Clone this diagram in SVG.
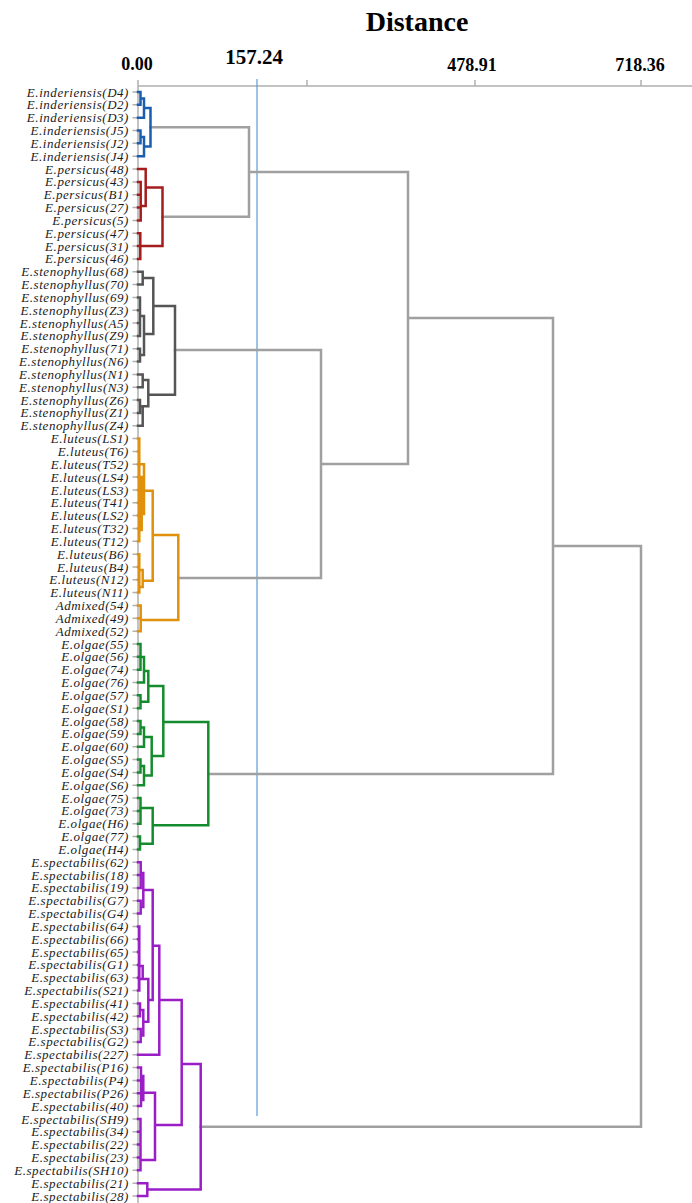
<svg xmlns="http://www.w3.org/2000/svg" width="692" height="1203" viewBox="0 0 692 1203">
<style>
.lbl{font-family:"Liberation Serif","Times New Roman",serif;font-style:italic;font-size:13px;letter-spacing:0.55px;fill:#1a1a1a;text-anchor:end}
.ax{font-family:"Liberation Serif","Times New Roman",serif;font-weight:bold;fill:#000;text-anchor:middle}
.br{fill:none;stroke-width:2.5;stroke-linecap:square;stroke-linejoin:miter}
.axis{fill:none;stroke:#b0b0b0;stroke-width:1.5}
</style>
<rect width="692" height="1203" fill="#fff"/>
<g id="title"><text class="ax" x="417" y="31" font-size="28">Distance</text></g>
<g id="axis">
<text class="ax" x="137" y="70" font-size="18">0.00</text>
<text class="ax" x="254" y="64" font-size="21">157.24</text>
<text class="ax" x="472" y="71" font-size="18">478.91</text>
<text class="ax" x="640" y="71" font-size="18">718.36</text>
<path class="axis" d="M138 86H692M138 80V1203M307 80V86M475 80V86M641 80V86"/>
<path class="axis" d="M132.5 92H138M132.5 104.8H138M132.5 117.7H138M132.5 130.5H138M132.5 143.3H138M132.5 156.2H138M132.5 169H138M132.5 181.9H138M132.5 194.7H138M132.5 207.5H138M132.5 220.4H138M132.5 233.2H138M132.5 246H138M132.5 258.9H138M132.5 271.7H138M132.5 284.6H138M132.5 297.4H138M132.5 310.3H138M132.5 323.1H138M132.5 335.9H138M132.5 348.7H138M132.5 361.6H138M132.5 374.4H138M132.5 387.3H138M132.5 400.1H138M132.5 412.9H138M132.5 425.8H138M132.5 438.6H138M132.5 451.4H138M132.5 464.3H138M132.5 477.1H138M132.5 490H138M132.5 502.8H138M132.5 515.6H138M132.5 528.5H138M132.5 541.3H138M132.5 554.2H138M132.5 567H138M132.5 579.8H138M132.5 592.6H138M132.5 605.5H138M132.5 618.3H138M132.5 631.2H138M132.5 644H138M132.5 656.8H138M132.5 669.7H138M132.5 682.5H138M132.5 695.3H138M132.5 708.2H138M132.5 721H138M132.5 733.9H138M132.5 746.7H138M132.5 759.5H138M132.5 772.4H138M132.5 785.2H138M132.5 798H138M132.5 810.9H138M132.5 823.7H138M132.5 836.5H138M132.5 849.4H138M132.5 862.2H138M132.5 875.1H138M132.5 887.9H138M132.5 900.7H138M132.5 913.6H138M132.5 926.4H138M132.5 939.2H138M132.5 952.1H138M132.5 964.9H138M132.5 977.8H138M132.5 990.6H138M132.5 1003.4H138M132.5 1016.3H138M132.5 1029.1H138M132.5 1041.9H138M132.5 1054.8H138M132.5 1067.6H138M132.5 1080.4H138M132.5 1093.3H138M132.5 1106.1H138M132.5 1119H138M132.5 1131.8H138M132.5 1144.6H138M132.5 1157.5H138M132.5 1170.3H138M132.5 1183.2H138M132.5 1196H138"/>
<path d="M257 79V1116" stroke="#5b9bd5" stroke-width="1.2" fill="none"/>
</g>
<g id="connectors">
<path class="br" stroke="#a0a0a0" d="M150.5 127.3H249V216.7H162.5M249 172H408V464H321M175 350H321V578H178.3M408 318H553V774H208.3M553 546H641V1126.7H200.7"/>
<path id="c-inderiensis" class="br" stroke="#1a5eb0" d="M138 92H140.5V104.8H138M140.5 98.4H144V117.7H138M144 108H150.5V146.5H144M138 130.5H140.5V143.3H138M140.5 136.9H144V156.2H138"/>
<path id="c-persicus" class="br" stroke="#a51c1c" d="M138 169H145.7V206H140.7M138 181.9H140.7V220.4H138M138 194.7H140.7M138 207.5H140.7M145.7 187.5H162.5V246H140.3M138 233.2H140.3V258.9H138M138 246H140.3"/>
<path id="c-stenophyllus" class="br" stroke="#555555" d="M138 271.7H142.7V284.6H138M142.7 278H153.3V334H144M138 297.4H140V335.9H138M138 310.3H140M138 323.1H140M140 316H144V355H140M138 348.7H140V361.6H138M153.3 306H175V394.7H148.3M138 374.4H142.7V387.3H138M142.7 380H148.3V406.3H142.7M138 400.1H140V412.9H138M140 406.5H142.7V425.8H138"/>
<path id="c-luteus" class="br" stroke="#e0900a" d="M138 438.6H139.3V541.3H138M138 451.4H139.3M138 477.1H139.3M138 490H139.3M138 502.8H139.3M138 515.6H139.3M138 528.5H139.3M138 464.3H144V514H141.7M141.7 477.1V530M139.3 490.7H152.7V580.7H142.7M138 554.2H139.3V592.6H138M138 567H139.3M138 579.8H139.3M139.3 570H142.7V587H139.3M152.7 535H178.3V620H140.7M138 605.5H140.7V631.2H138M138 618.3H140.7"/>
<path id="c-olgae" class="br" stroke="#148c2e" d="M138 644H140.5V669.7H138M138 656.8H140.5M140.5 657H144V682.5H138M144 671H148.3V701.7H140.5M138 695.3H140.5V708.2H138M148.3 686H163.3V756H151.7M138 721H140.5V733.9H138M140.5 727.5H144V746.7H138M144 737H151.7V775.6H144M138 759.5H140.5V772.4H138M140.5 766H144V785.2H138M163.3 722H208.3V825.3H152.7M138 798H140.5V823.7H138M138 810.9H140.5M140.5 808H152.7V843.7H140M138 836.5H140V849.4H138"/>
<path id="c-spectabilis" class="br" stroke="#9a1ec6" d="M138 862.2H140.7V887.9H138M138 875.1H140.7M140.7 873H143.3V907H140.7M138 900.7H140.7V913.6H138M143.3 890H152.7V1000H148.3M138 926.4H139.3V990.6H138M138 939.2H139.3M138 952.1H139.3M138 964.9H139.3M138 977.8H139.3M139.3 966H142.7V979H139.3M142.7 979H148.3V1021.7H143.3M138 1003.4H140V1016.3H138M140 1010H143.3V1035.5H140.7M138 1029.1H140.7V1041.9H138M152.7 945.7H159.3V1054.8H138M159.3 1000H181.7V1125H155M181.7 1064H200.7V1189.5H147.3M138 1067.6H141V1106.1H138M138 1080.4H141M138 1093.3H141M141 1076H143.3V1100H141M141 1092.7H155V1160H140.5M138 1119H140.5V1170.3H138M138 1131.8H140.5M138 1144.6H140.5M138 1157.5H140.5M138 1183.2H147.3V1196H138"/>
</g>
<g id="leaves">
<g id="n0"><text class="lbl" x="129" y="96.5">E.inderiensis(D4)</text></g>
<g id="n1"><text class="lbl" x="129" y="109.3">E.inderiensis(D2)</text></g>
<g id="n2"><text class="lbl" x="129" y="122.2">E.inderiensis(D3)</text></g>
<g id="n3"><text class="lbl" x="129" y="135">E.inderiensis(J5)</text></g>
<g id="n4"><text class="lbl" x="129" y="147.8">E.inderiensis(J2)</text></g>
<g id="n5"><text class="lbl" x="129" y="160.7">E.inderiensis(J4)</text></g>
<g id="n6"><text class="lbl" x="129" y="173.5">E.persicus(48)</text></g>
<g id="n7"><text class="lbl" x="129" y="186.4">E.persicus(43)</text></g>
<g id="n8"><text class="lbl" x="129" y="199.2">E.persicus(B1)</text></g>
<g id="n9"><text class="lbl" x="129" y="212">E.persicus(27)</text></g>
<g id="n10"><text class="lbl" x="129" y="224.9">E.persicus(5)</text></g>
<g id="n11"><text class="lbl" x="129" y="237.7">E.persicus(47)</text></g>
<g id="n12"><text class="lbl" x="129" y="250.5">E.persicus(31)</text></g>
<g id="n13"><text class="lbl" x="129" y="263.4">E.persicus(46)</text></g>
<g id="n14"><text class="lbl" x="129" y="276.2">E.stenophyllus(68)</text></g>
<g id="n15"><text class="lbl" x="129" y="289.1">E.stenophyllus(70)</text></g>
<g id="n16"><text class="lbl" x="129" y="301.9">E.stenophyllus(69)</text></g>
<g id="n17"><text class="lbl" x="129" y="314.8">E.stenophyllus(Z3)</text></g>
<g id="n18"><text class="lbl" x="129" y="327.6">E.stenophyllus(A5)</text></g>
<g id="n19"><text class="lbl" x="129" y="340.4">E.stenophyllus(Z9)</text></g>
<g id="n20"><text class="lbl" x="129" y="353.2">E.stenophyllus(71)</text></g>
<g id="n21"><text class="lbl" x="129" y="366.1">E.stenophyllus(N6)</text></g>
<g id="n22"><text class="lbl" x="129" y="378.9">E.stenophyllus(N1)</text></g>
<g id="n23"><text class="lbl" x="129" y="391.8">E.stenophyllus(N3)</text></g>
<g id="n24"><text class="lbl" x="129" y="404.6">E.stenophyllus(Z6)</text></g>
<g id="n25"><text class="lbl" x="129" y="417.4">E.stenophyllus(Z1)</text></g>
<g id="n26"><text class="lbl" x="129" y="430.3">E.stenophyllus(Z4)</text></g>
<g id="n27"><text class="lbl" x="129" y="443.1">E.luteus(LS1)</text></g>
<g id="n28"><text class="lbl" x="129" y="455.9">E.luteus(T6)</text></g>
<g id="n29"><text class="lbl" x="129" y="468.8">E.luteus(T52)</text></g>
<g id="n30"><text class="lbl" x="129" y="481.6">E.luteus(LS4)</text></g>
<g id="n31"><text class="lbl" x="129" y="494.5">E.luteus(LS3)</text></g>
<g id="n32"><text class="lbl" x="129" y="507.3">E.luteus(T41)</text></g>
<g id="n33"><text class="lbl" x="129" y="520.1">E.luteus(LS2)</text></g>
<g id="n34"><text class="lbl" x="129" y="533">E.luteus(T32)</text></g>
<g id="n35"><text class="lbl" x="129" y="545.8">E.luteus(T12)</text></g>
<g id="n36"><text class="lbl" x="129" y="558.7">E.luteus(B6)</text></g>
<g id="n37"><text class="lbl" x="129" y="571.5">E.luteus(B4)</text></g>
<g id="n38"><text class="lbl" x="129" y="584.3">E.luteus(N12)</text></g>
<g id="n39"><text class="lbl" x="129" y="597.1">E.luteus(N11)</text></g>
<g id="n40"><text class="lbl" x="129" y="610">Admixed(54)</text></g>
<g id="n41"><text class="lbl" x="129" y="622.8">Admixed(49)</text></g>
<g id="n42"><text class="lbl" x="129" y="635.7">Admixed(52)</text></g>
<g id="n43"><text class="lbl" x="129" y="648.5">E.olgae(55)</text></g>
<g id="n44"><text class="lbl" x="129" y="661.3">E.olgae(56)</text></g>
<g id="n45"><text class="lbl" x="129" y="674.2">E.olgae(74)</text></g>
<g id="n46"><text class="lbl" x="129" y="687">E.olgae(76)</text></g>
<g id="n47"><text class="lbl" x="129" y="699.8">E.olgae(57)</text></g>
<g id="n48"><text class="lbl" x="129" y="712.7">E.olgae(S1)</text></g>
<g id="n49"><text class="lbl" x="129" y="725.5">E.olgae(58)</text></g>
<g id="n50"><text class="lbl" x="129" y="738.4">E.olgae(59)</text></g>
<g id="n51"><text class="lbl" x="129" y="751.2">E.olgae(60)</text></g>
<g id="n52"><text class="lbl" x="129" y="764">E.olgae(S5)</text></g>
<g id="n53"><text class="lbl" x="129" y="776.9">E.olgae(S4)</text></g>
<g id="n54"><text class="lbl" x="129" y="789.7">E.olgae(S6)</text></g>
<g id="n55"><text class="lbl" x="129" y="802.5">E.olgae(75)</text></g>
<g id="n56"><text class="lbl" x="129" y="815.4">E.olgae(73)</text></g>
<g id="n57"><text class="lbl" x="129" y="828.2">E.olgae(H6)</text></g>
<g id="n58"><text class="lbl" x="129" y="841">E.olgae(77)</text></g>
<g id="n59"><text class="lbl" x="129" y="853.9">E.olgae(H4)</text></g>
<g id="n60"><text class="lbl" x="129" y="866.7">E.spectabilis(62)</text></g>
<g id="n61"><text class="lbl" x="129" y="879.6">E.spectabilis(18)</text></g>
<g id="n62"><text class="lbl" x="129" y="892.4">E.spectabilis(19)</text></g>
<g id="n63"><text class="lbl" x="129" y="905.2">E.spectabilis(G7)</text></g>
<g id="n64"><text class="lbl" x="129" y="918.1">E.spectabilis(G4)</text></g>
<g id="n65"><text class="lbl" x="129" y="930.9">E.spectabilis(64)</text></g>
<g id="n66"><text class="lbl" x="129" y="943.7">E.spectabilis(66)</text></g>
<g id="n67"><text class="lbl" x="129" y="956.6">E.spectabilis(65)</text></g>
<g id="n68"><text class="lbl" x="129" y="969.4">E.spectabilis(G1)</text></g>
<g id="n69"><text class="lbl" x="129" y="982.3">E.spectabilis(63)</text></g>
<g id="n70"><text class="lbl" x="129" y="995.1">E.spectabilis(S21)</text></g>
<g id="n71"><text class="lbl" x="129" y="1007.9">E.spectabilis(41)</text></g>
<g id="n72"><text class="lbl" x="129" y="1020.8">E.spectabilis(42)</text></g>
<g id="n73"><text class="lbl" x="129" y="1033.6">E.spectabilis(S3)</text></g>
<g id="n74"><text class="lbl" x="129" y="1046.4">E.spectabilis(G2)</text></g>
<g id="n75"><text class="lbl" x="129" y="1059.3">E.spectabilis(227)</text></g>
<g id="n76"><text class="lbl" x="129" y="1072.1">E.spectabilis(P16)</text></g>
<g id="n77"><text class="lbl" x="129" y="1084.9">E.spectabilis(P4)</text></g>
<g id="n78"><text class="lbl" x="129" y="1097.8">E.spectabilis(P26)</text></g>
<g id="n79"><text class="lbl" x="129" y="1110.6">E.spectabilis(40)</text></g>
<g id="n80"><text class="lbl" x="129" y="1123.5">E.spectabilis(SH9)</text></g>
<g id="n81"><text class="lbl" x="129" y="1136.3">E.spectabilis(34)</text></g>
<g id="n82"><text class="lbl" x="129" y="1149.1">E.spectabilis(22)</text></g>
<g id="n83"><text class="lbl" x="129" y="1162">E.spectabilis(23)</text></g>
<g id="n84"><text class="lbl" x="129" y="1174.8">E.spectabilis(SH10)</text></g>
<g id="n85"><text class="lbl" x="129" y="1187.7">E.spectabilis(21)</text></g>
<g id="n86"><text class="lbl" x="129" y="1200.5">E.spectabilis(28)</text></g>
</g>
</svg>
